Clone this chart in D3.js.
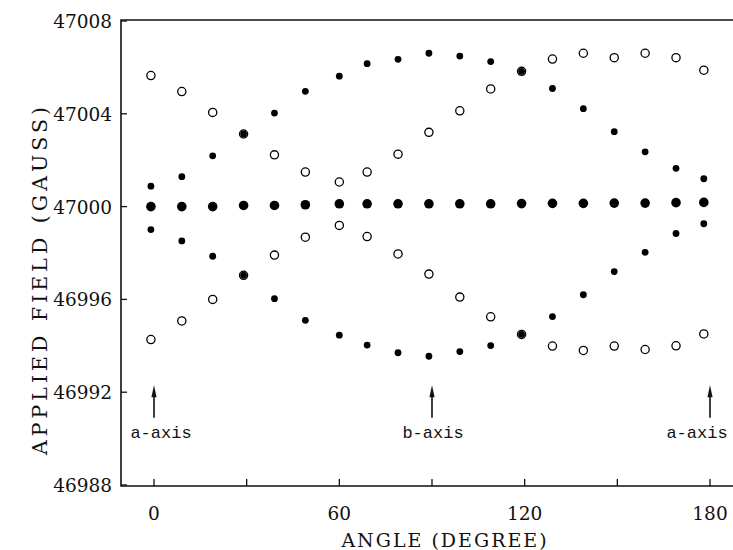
<!DOCTYPE html>
<html>
<head>
<meta charset="utf-8">
<script src="https://cdn.jsdelivr.net/npm/d3@7"></script>
<style>
  body { margin: 0; background: #fff; }
  svg { display: block; }
  .tick-label { font-family: "DejaVu Serif", serif; font-size: 18.5px; fill: #111; }
  .axis-title { font-family: "DejaVu Serif", serif; fill: #111; }
  .dir-label { font-family: "Liberation Mono", monospace; font-size: 17px; fill: #111; }
</style>
</head>
<body>
<div id="chart"></div>
<script>
var width = 733;
var height = 550;

// angles (points sit slightly left of the nominal 10 deg steps)
var angles = [-1, 9, 19, 29, 39, 49, 60, 69, 79, 89, 99, 109, 119, 129, 139, 149, 159, 169, 178];

var middle = [47000.00, 47000.00, 47000.00, 47000.05, 47000.05, 47000.08, 47000.12, 47000.12, 47000.12, 47000.12,
              47000.12, 47000.12, 47000.13, 47000.14, 47000.14, 47000.15, 47000.15, 47000.17, 47000.18];
var upperFilled = [47000.88, 47001.29, 47002.19, 47003.13, 47004.03, 47004.97, 47005.62, 47006.16, 47006.35, 47006.61,
                   47006.49, 47006.25, 47005.83, 47005.09, 47004.22, 47003.23, 47002.36, 47001.65, 47001.20];
var lowerFilled = [46999.01, 46998.52, 46997.86, 46997.04, 46996.03, 46995.10, 46994.46, 46994.03, 46993.70, 46993.55,
                   46993.75, 46994.01, 46994.49, 46995.26, 46996.20, 46997.20, 46998.03, 46998.84, 46999.26];
var upperOpen = [47005.65, 47004.96, 47004.06, 47003.13, 47002.23, 47001.49, 47001.06, 47001.49, 47002.26, 47003.20,
                 47004.13, 47005.07, 47005.83, 47006.36, 47006.61, 47006.42, 47006.61, 47006.42, 47005.88];
var lowerOpen = [46994.27, 46995.07, 46996.00, 46997.04, 46997.91, 46998.68, 46999.19, 46998.71, 46997.96, 46997.09,
                 46996.10, 46995.25, 46994.49, 46993.99, 46993.80, 46993.99, 46993.84, 46994.00, 46994.51];

var xTicks = [0, 30, 60, 90, 120, 150, 180];
var xLabels = [0, 60, 120, 180];
var yTicks = [46988, 46992, 46996, 47000, 47004, 47008];

var arrowAngles = [0, 90, 180];
var arrowNames = ["a-axis", "b-axis", "a-axis"];

var svg = d3.select("#chart")
            .append("svg")
            .attr("width", width)
            .attr("height", height);

// note: "top" is taken by window.top, so plot edges get a prefix
var pLeft = 121, pRight = 740, pTop = 21, pBottom = 485;

var x = d3.scaleLinear()
          .domain([0, 180])
          .range([154, 710]);

var y = d3.scaleLinear()
          .domain([46988, 47008])
          .range([pBottom, pTop]);

// frame: left axis, bottom axis, top border
svg.append("path")
    .attr("d", "M" + pRight + "," + (pTop - 1) + "H" + pLeft + "V" + (pBottom + 1) + "H" + pRight)
    .attr("fill", "none")
    .attr("stroke", "#111")
    .attr("stroke-width", 1.6);

// x ticks (inward) + labels
svg.selectAll(".xtick")
    .data(xTicks)
    .enter()
    .append("line")
    .attr("x1", function(d) { return x(d); })
    .attr("x2", function(d) { return x(d); })
    .attr("y1", pBottom + 1)
    .attr("y2", pBottom - 6)
    .attr("stroke", "#111")
    .attr("stroke-width", 1.3);

svg.selectAll(".xlab")
    .data(xLabels)
    .enter()
    .append("text")
    .attr("class", "tick-label")
    .attr("x", function(d) { return x(d); })
    .attr("y", 520)
    .attr("text-anchor", "middle")
    .text(function(d) { return d; });

// y ticks + labels
svg.selectAll(".ytick")
    .data(yTicks)
    .enter()
    .append("line")
    .attr("x1", pLeft)
    .attr("x2", pLeft + 6)
    .attr("y1", function(d) { return y(d); })
    .attr("y2", function(d) { return y(d); })
    .attr("stroke", "#111")
    .attr("stroke-width", 1.3);

svg.selectAll(".ylab")
    .data(yTicks)
    .enter()
    .append("text")
    .attr("class", "tick-label")
    .attr("x", 112)
    .attr("y", function(d) { return y(d) + 7; })
    .attr("text-anchor", "end")
    .text(function(d) { return d; });

// axis titles
svg.append("text")
    .attr("class", "axis-title")
    .attr("x", 445)
    .attr("y", 547)
    .attr("text-anchor", "middle")
    .style("font-size", "19px")
    .style("letter-spacing", "2px")
    .text("ANGLE (DEGREE)");

svg.append("text")
    .attr("class", "axis-title")
    .attr("transform", "translate(47,279) rotate(-90)")
    .attr("text-anchor", "middle")
    .style("font-size", "20.5px")
    .style("letter-spacing", "4px")
    .text("APPLIED FIELD (GAUSS)");

// direction arrows
var arrowTip = 46992.3, arrowTail = 46990.9;
var labelShift = [7, 1, -13];

var arrows = svg.selectAll(".arrow")
    .data(arrowAngles)
    .enter()
    .append("g");

arrows.append("line")
    .attr("x1", function(d) { return x(d); })
    .attr("x2", function(d) { return x(d); })
    .attr("y1", y(arrowTail))
    .attr("y2", y(arrowTip) + 8)
    .attr("stroke", "#111")
    .attr("stroke-width", 1.6);

arrows.append("path")
    .attr("d", function(d) {
        var cx = x(d), ty = y(arrowTip);
        return "M" + cx + "," + ty + "L" + (cx - 2.6) + "," + (ty + 12) + "L" + (cx + 2.6) + "," + (ty + 12) + "Z";
    })
    .attr("fill", "#111");

arrows.append("text")
    .attr("class", "dir-label")
    .attr("x", function(d, i) { return x(d) + labelShift[i]; })
    .attr("y", 438)
    .attr("text-anchor", "middle")
    .text(function(d, i) { return arrowNames[i]; });

// data points
function dots(values, r, filled) {
    svg.append("g")
        .selectAll("circle")
        .data(values)
        .enter()
        .append("circle")
        .attr("cx", function(d, i) { return x(angles[i]); })
        .attr("cy", function(d) { return y(d); })
        .attr("r", r)
        .attr("fill", filled ? "#000" : "#fff")
        .attr("stroke", "#000")
        .attr("stroke-width", filled ? 0 : 1.3);
}

dots(upperOpen, 4.1, false);
dots(lowerOpen, 4.1, false);
dots(middle, 4.8, true);
dots(upperFilled, 3.4, true);
dots(lowerFilled, 3.4, true);
</script>
</body>
</html>
